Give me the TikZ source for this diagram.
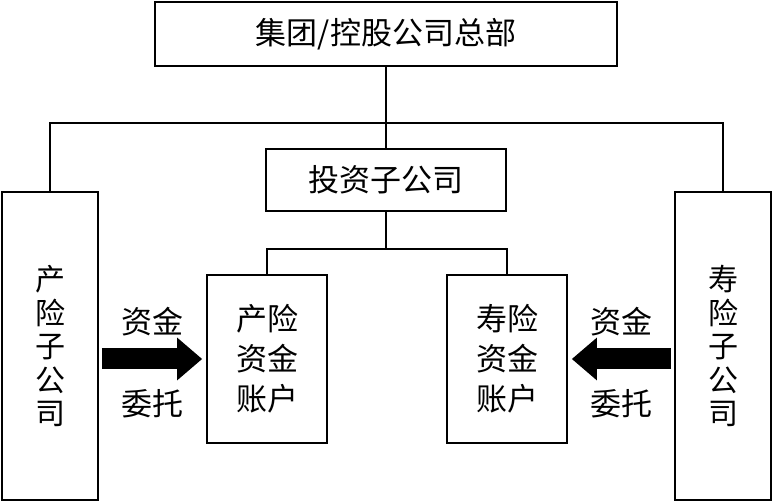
\documentclass[tikz,border=0pt]{standalone}
\usepackage{fontspec}
\setmainfont{Noto Sans CJK SC}
\usepackage{tikz}
\usetikzlibrary{arrows.meta,positioning}

\begin{document}
\begin{tikzpicture}[x=1pt, y=-1pt,
  box/.style={draw, line width=1.6pt, inner sep=0pt, align=center, font=\fontsize{31}{40}\selectfont},
  vbox/.style={box, minimum width=96pt, minimum height=308pt, font=\fontsize{30}{33.5}\selectfont},
  acct/.style={box, minimum width=120pt, minimum height=168pt},
  link/.style={line width=1.2pt},
  bigarrow/.style={line width=21pt, -{Triangle[length=25pt, width=41pt]}, shorten <=3pt, shorten >=4pt},
  lbl/.style={inner sep=0pt, font=\fontsize{31}{33}\selectfont},
]
\useasboundingbox (0,0) rectangle (772,502);

\node[box, minimum width=462pt, minimum height=64pt] (hq) at (386,34) {集团/控股公司总部};
\node[box, minimum width=240pt, minimum height=62pt] (inv) at (386,180) {投资子公司};
\node[vbox] (pc) at (50,346) {产\\险\\子\\公\\司};
\node[vbox] (life) at (723,346) {寿\\险\\子\\公\\司};
\node[acct] (pcacct) at (267,359) {产险\\资金\\账户};
\node[acct] (lifeacct) at (507,359) {寿险\\资金\\账户};

\coordinate (bus) at (386,123);
\coordinate (split) at (386,249);

% tree connectors
\draw[link] (hq) -- (inv);
\draw[link] (pc.north) |- (bus) -| (life.north);
\draw[link] (inv) -- (split);
\draw[link] (pcacct.north) |- (split) -| (lifeacct.north);

% fund entrustment
\draw[bigarrow] (pc.east |- pcacct) -- (pcacct.west)
  node[midway, lbl, above=12pt] {资金}
  node[midway, lbl, below=20pt] {委托};
\draw[bigarrow] (life.west |- lifeacct) -- (lifeacct.east)
  node[midway, lbl, above=12pt] {资金}
  node[midway, lbl, below=20pt] {委托};

\end{tikzpicture}
\end{document}
